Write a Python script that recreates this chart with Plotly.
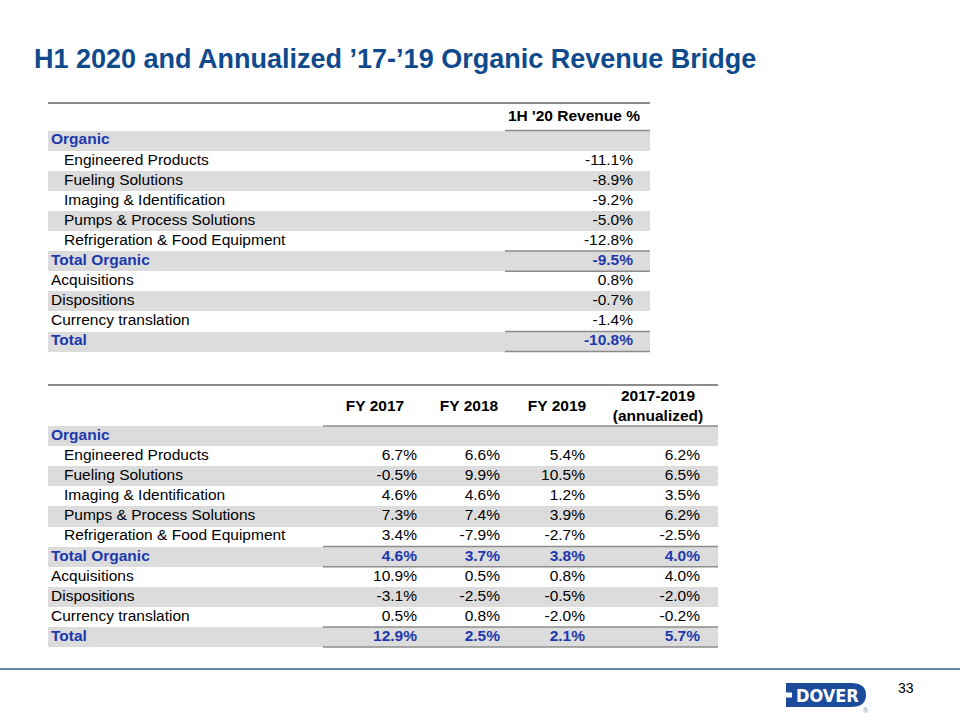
import plotly.graph_objects as go

# ---------------- data ----------------
ROW_LABELS = [
    "Organic",
    "Engineered Products",
    "Fueling Solutions",
    "Imaging & Identification",
    "Pumps & Process Solutions",
    "Refrigeration & Food Equipment",
    "Total Organic",
    "Acquisitions",
    "Dispositions",
    "Currency translation",
    "Total",
]
ROW_KIND = ["group", "seg", "seg", "seg", "seg", "seg",
            "total", "plain", "plain", "plain", "total"]

H1_HEADER = ["1H '20 Revenue %"]
H1_2020 = [None, -11.1, -8.9, -9.2, -5.0, -12.8, -9.5, 0.8, -0.7, -1.4, -10.8]

FY_HEADERS = ["FY 2017", "FY 2018", "FY 2019", "2017-2019<br>(annualized)"]
FY2017 = [None, 6.7, -0.5, 4.6, 7.3, 3.4, 4.6, 10.9, -3.1, 0.5, 12.9]
FY2018 = [None, 6.6, 9.9, 4.6, 7.4, -7.9, 3.7, 0.5, -2.5, 0.8, 2.5]
FY2019 = [None, 5.4, 10.5, 1.2, 3.9, -2.7, 3.8, 0.8, -0.5, -2.0, 2.1]
ANNUALIZED = [None, 6.2, 6.5, 3.5, 6.2, -2.5, 4.0, 4.0, -2.0, -0.2, 5.7]

TITLE = "H1 2020 and Annualized \u201917-\u201919 Organic Revenue Bridge"
PAGE = "33"

# ---------------- style ----------------
FONT = "Arial, Liberation Sans, sans-serif"
FS = 15.5
BLUE = "#1d39ad"
TITLE_BLUE = "#0e4a8c"
BAND = "#dcdcdc"
RULE = "#8c8c8c"
ROW_H = 20.1

fig = go.Figure()
shapes = []


def draw_table(top, left, right, split, y0, header_y, headers, header_x,
               header_anchor, columns, value_x):
    n = len(ROW_LABELS)
    centers = [y0 + ROW_H * (i + 0.5) for i in range(n)]
    band_rows = [i for i in range(n) if i % 2 == 0]
    fig.add_trace(go.Bar(
        orientation="h",
        y=[centers[i] for i in band_rows],
        x=[right - left] * len(band_rows),
        base=[left] * len(band_rows),
        width=ROW_H,
        marker=dict(color=BAND, line=dict(width=0)),
        hoverinfo="skip",
    ))
    # labels
    lx, lt, lc = [], [], []
    for lab, kind in zip(ROW_LABELS, ROW_KIND):
        lx.append(64 if kind == "seg" else 51)
        bold = kind in ("group", "total")
        lt.append(f"<b>{lab}</b>" if bold else lab)
        lc.append(BLUE if bold else "black")
    fig.add_trace(go.Scatter(
        x=lx, y=centers, mode="text", text=lt, textposition="middle right",
        textfont=dict(family=FONT, size=FS, color=lc), hoverinfo="skip",
    ))
    # values
    for col, vx in zip(columns, value_x):
        ys, ts, cs = [], [], []
        for i, v in enumerate(col):
            if v is None:
                continue
            ys.append(centers[i])
            s = f"{v:.1f}%"
            if ROW_KIND[i] == "total":
                ts.append(f"<b>{s}</b>")
                cs.append(BLUE)
            else:
                ts.append(s)
                cs.append("black")
        fig.add_trace(go.Scatter(
            x=[vx] * len(ys), y=ys, mode="text", text=ts,
            textposition="middle left",
            textfont=dict(family=FONT, size=FS, color=cs), hoverinfo="skip",
        ))
    # headers
    fig.add_trace(go.Scatter(
        x=header_x, y=[header_y] * len(headers), mode="text",
        text=[f"<b>{h}</b>".replace("<br>", "</b><br><b>") for h in headers],
        textposition=header_anchor,
        textfont=dict(family=FONT, size=FS, color="black"), hoverinfo="skip",
    ))
    # rules
    def hline(x0, x1, y, w=1.5):
        shapes.append(dict(type="line", xref="x", yref="y", x0=x0, x1=x1,
                           y0=y, y1=y, line=dict(color=RULE, width=w)))
    hline(left, right, top, 2)
    hline(split, right, y0)
    for i, kind in enumerate(ROW_KIND):
        if kind == "total":
            hline(split, right, y0 + ROW_H * i)
            hline(split, right, y0 + ROW_H * (i + 1))


draw_table(top=103, left=48, right=650, split=505, y0=130.5, header_y=117,
           headers=H1_HEADER, header_x=[640], header_anchor="middle left",
           columns=[H1_2020], value_x=[633])

draw_table(top=385, left=48, right=718, split=323, y0=426, header_y=407,
           headers=FY_HEADERS, header_x=[375, 469, 557, 658],
           header_anchor="middle center",
           columns=[FY2017, FY2018, FY2019, ANNUALIZED],
           value_x=[417, 500, 585, 700])

# footer rule
shapes.append(dict(type="line", xref="x", yref="y", x0=0, x1=960, y0=669,
                   y1=669, line=dict(color="#6d87a0", width=2)))
# logo
shapes.append(dict(type="path", xref="x", yref="y",
                   path="M786,683 L851,683 Q866,683 866,695 Q866,707 851,707 L786,707 Z",
                   fillcolor="#1b4c9b", line=dict(width=0)))
shapes.append(dict(type="rect", xref="x", yref="y", x0=785, x1=792,
                   y0=692.5, y1=697.5, fillcolor="white", line=dict(width=0)))

annotations = [
    dict(x=32, y=59, xref="x", yref="y", text=f"<b>{TITLE}</b>",
         showarrow=False, xanchor="left", yanchor="middle",
         font=dict(family=FONT, size=27, color=TITLE_BLUE)),
    dict(x=827, y=695.5, xref="x", yref="y", text="<b>DOVER</b>",
         showarrow=False, xanchor="center", yanchor="middle",
         font=dict(family="Liberation Sans Narrow, DejaVu Sans Condensed, Arial",
                   size=18, color="white")),
    dict(x=866, y=710, xref="x", yref="y", text="\u00ae", showarrow=False,
         xanchor="center", yanchor="middle",
         font=dict(family=FONT, size=7, color="#7f8ea8")),
    dict(x=906, y=688, xref="x", yref="y", text=PAGE, showarrow=False,
         xanchor="center", yanchor="middle",
         font=dict(family=FONT, size=14, color="black")),
]

fig.update_layout(
    width=960, height=720,
    margin=dict(l=0, r=0, t=0, b=0),
    paper_bgcolor="white", plot_bgcolor="white",
    showlegend=False, barmode="overlay", bargap=0,
    xaxis=dict(range=[0, 960], visible=False, fixedrange=True),
    yaxis=dict(range=[720, 0], visible=False, fixedrange=True),
    shapes=shapes, annotations=annotations,
)

fig.write_html("out.html", config={"displayModeBar": False},
               post_script="document.body.style.margin='0';")
